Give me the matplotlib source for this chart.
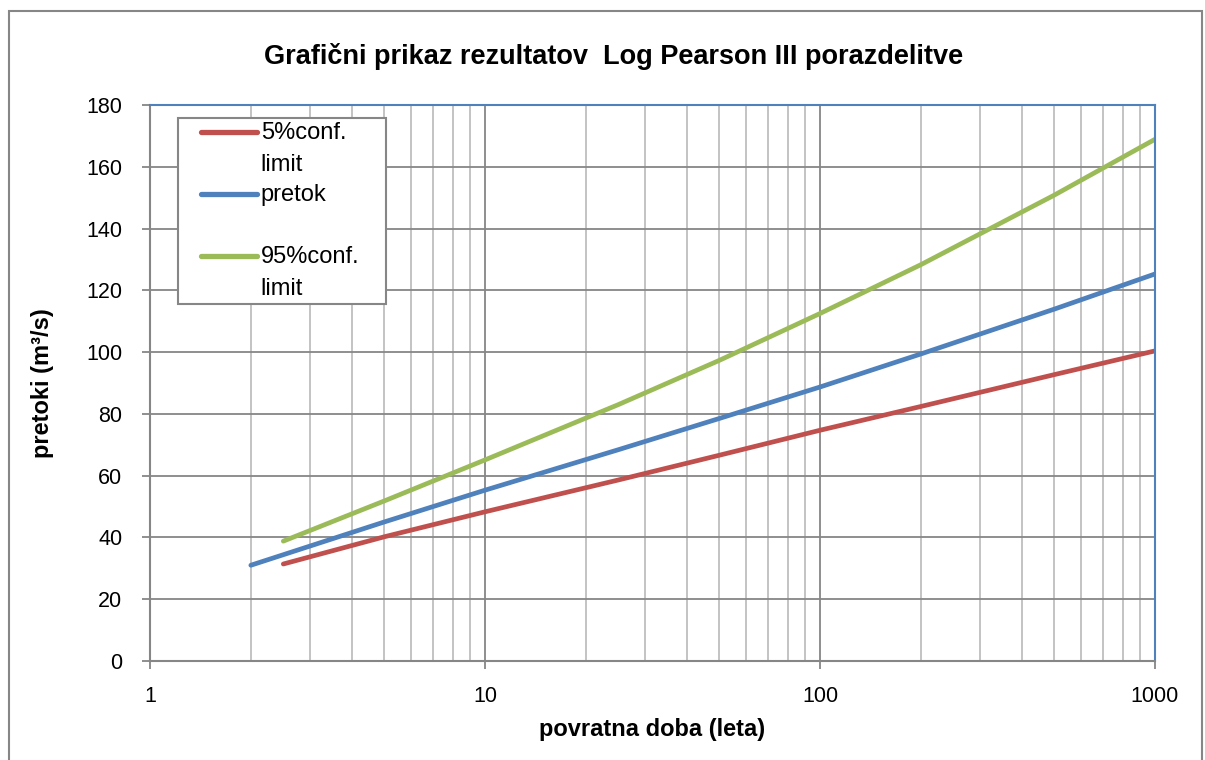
import numpy as np
import matplotlib
matplotlib.use('Agg')
import matplotlib.pyplot as plt
from matplotlib.patches import Rectangle
from matplotlib.lines import Line2D
from matplotlib.legend_handler import HandlerLine2D
from matplotlib.ticker import FixedLocator, NullFormatter

plt.rcParams['font.family'] = ['Liberation Sans', 'DejaVu Sans']

# podatki odcitani iz grafa
T_pretok = [2, 5, 10, 25, 50, 100, 200, 500, 1000]
pretok = [31.0, 45.0, 55.3, 68.4, 78.5, 88.7, 99.4, 113.9, 125.3]

T_meje = [2.5, 5, 10, 25, 50, 100, 200, 500, 1000]
meja_5 = [31.4, 40.2, 48.3, 58.6, 66.6, 74.7, 82.4, 92.7, 100.4]
meja_95 = [38.8, 51.8, 65.1, 83.0, 97.3, 112.5, 128.3, 150.8, 168.9]

y_ticks = [0, 20, 40, 60, 80, 100, 120, 140, 160, 180]
x_ticks = [1, 10, 100, 1000]
x_labels = ['1', '10', '100', '1000']

c_red = '#C0504D'
c_blue = '#4F81BD'
c_green = '#9BBB59'
c_major = '#868686'
c_minor = '#BEBEBE'

leg_fs = 17


class TopLine(HandlerLine2D):
    # legenda kot v Excelu: crta ob prvi vrstici besedila, malo zamaknjena
    def create_artists(self, legend, orig_handle, xdescent, ydescent,
                       width, height, fontsize, trans):
        arts = super().create_artists(legend, orig_handle, xdescent, ydescent,
                                      width, height, fontsize, trans)
        for a in arts:
            xd = np.array(a.get_xdata(), dtype=float)
            if len(xd) > 1:
                xd[0] = xd[0] + 14
                a.set_xdata(xd)
            a.set_ydata(np.array(a.get_ydata(), dtype=float) + 0.72 * fontsize)
            a.set_linewidth(3.8)
        return arts


fig = plt.figure(figsize=(12.05, 7.6), dpi=100)
ax = fig.add_axes([150/1205, 99/760, 1005/1205, 556/760])

ax.plot(T_meje, meja_5, color=c_red, lw=3.4, solid_capstyle='round', label='5%conf.\nlimit')
ax.plot(T_pretok, pretok, color=c_blue, lw=3.4, solid_capstyle='round', label='pretok\n ')
ax.plot(T_meje, meja_95, color=c_green, lw=3.4, solid_capstyle='round', label='95%conf.\nlimit')

ax.set_xscale('log')
ax.set_xlim(1, 1000)
ax.set_ylim(0, 180)
ax.set_yticks(y_ticks)
ax.set_xticks(x_ticks)
ax.set_xticklabels(x_labels)
ax.xaxis.set_minor_locator(FixedLocator([m * 10**e for e in range(3) for m in range(2, 10)]))
ax.xaxis.set_minor_formatter(NullFormatter())

ax.grid(True, which='major', color=c_major, lw=1.3)
ax.grid(True, which='minor', axis='x', color=c_minor, lw=1.3)
ax.set_axisbelow(True)

ax.tick_params(axis='both', which='major', direction='out', length=6, width=1.3,
               color=c_major, labelsize=15.5)
ax.tick_params(axis='y', which='major', pad=14)
ax.tick_params(axis='x', which='major', pad=12)
ax.tick_params(axis='x', which='minor', length=0)

for s in ['left', 'bottom']:
    ax.spines[s].set_color(c_major)
    ax.spines[s].set_linewidth(1.5)
for s in ['top', 'right']:
    ax.spines[s].set_color(c_blue)
    ax.spines[s].set_linewidth(1.5)

ax.set_xlabel('povratna doba (leta)', fontsize=17, fontweight='bold', labelpad=8)
ax.set_ylabel('pretoki (m³/s)', fontsize=17, fontweight='bold', labelpad=23)

leg_top = 1 - 13/556
leg_h = 0.3
leg = ax.legend(loc='upper left', bbox_to_anchor=(28/1005, leg_top - leg_h, 208/1005, leg_h),
                mode='expand', fontsize=leg_fs, handlelength=3.2, handletextpad=0.15,
                labelspacing=0.32, borderpad=0.15, borderaxespad=0, fancybox=False,
                edgecolor=c_major, framealpha=1,
                handler_map={Line2D: TopLine()})
leg.get_frame().set_linewidth(1.5)
for t in leg.get_texts():
    t.set_linespacing(1.62)

fig.text(614/1205, 1 - 57/760, 'Grafični prikaz rezultatov  Log Pearson III porazdelitve',
         fontsize=19.5, fontweight='bold', ha='center', va='center')

# okvir grafikona
fig.patches.append(Rectangle((9/1205, -0.05), 1193/1205, 1.05 - 11/760,
                             transform=fig.transFigure, fill=False,
                             edgecolor=c_major, lw=1.5))

fig.savefig('out.png', dpi=100)
